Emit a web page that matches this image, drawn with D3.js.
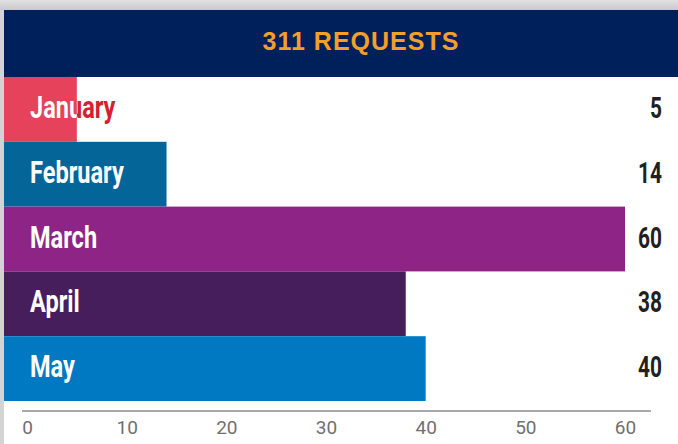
<!DOCTYPE html>
<html>
<head>
<meta charset="utf-8">
<script src="https://cdn.jsdelivr.net/npm/d3@7"></script>
<style>
  body { margin: 0; background: #d3d3d4; }
  #chart { width: 678px; height: 444px; }
</style>
</head>
<body>
<div id="chart"></div>
<script>
// data
let months = ["January", "February", "March", "April", "May"];
let requests = [5, 14, 60, 38, 40];
let barColors = ["#e6425b", "#046598", "#8e2586", "#461e5b", "#0079c2"];
let tickValues = [0, 10, 20, 30, 40, 50, 60];
let title = "311 REQUESTS";

let W = 678, H = 444;
let padLeft = 4, padTop = 10;
let squeeze = 0.76;   // fake a condensed face

let svg = d3.select("#chart").append("svg")
    .attr("width", W)
    .attr("height", H);

// grey top shadow
let defs = svg.append("defs");
let grad = defs.append("linearGradient").attr("id", "topShade")
    .attr("x1", 0).attr("y1", 0).attr("x2", 0).attr("y2", 1);
grad.append("stop").attr("offset", "0%").attr("stop-color", "#e2e2e3");
grad.append("stop").attr("offset", "100%").attr("stop-color", "#c9c9cb");
svg.append("rect").attr("x", 0).attr("y", 0).attr("width", W).attr("height", padTop)
    .attr("fill", "url(#topShade)");
svg.append("rect").attr("x", 0).attr("y", padTop).attr("width", padLeft).attr("height", H - padTop)
    .attr("fill", "#d3d3d4");

// white panel
svg.append("rect").attr("x", padLeft).attr("y", padTop).attr("width", W - padLeft).attr("height", H - padTop)
    .attr("fill", "#ffffff");

// header
svg.append("rect").attr("x", padLeft).attr("y", padTop).attr("width", W - padLeft).attr("height", 67)
    .attr("fill", "#00205b");
svg.append("text")
    .attr("x", 361).attr("y", 50)
    .attr("text-anchor", "middle")
    .attr("fill", "#f59e2a")
    .style("font-family", "'Liberation Sans', Arial, sans-serif")
    .style("font-weight", "bold")
    .style("font-size", "25px")
    .style("letter-spacing", "1px")
    .text(title);

// scales
let x = d3.scaleLinear().domain([0, 60]).range([27, 625]);
let y = d3.scaleBand().domain(months).range([77, 401]).padding(0);

let rows = months.map((m, i) => ({month: m, value: requests[i], color: barColors[i]}));

let labelFont = "Roboto, sans-serif";
let baseline = d => y(d.month) + y.bandwidth() / 2 + 8.5;

// clip paths so the month label is white over the bar and coloured past it
rows.forEach((d, i) => {
    defs.append("clipPath").attr("id", "clip" + i)
        .append("rect")
        .attr("x", padLeft)
        .attr("y", y(d.month))
        .attr("width", x(d.value) - padLeft)
        .attr("height", y.bandwidth());
});

let g = svg.append("g");

g.selectAll(".bar")
    .data(rows)
    .enter()
    .append("rect")
    .attr("class", "bar")
    .attr("x", padLeft)
    .attr("y", d => y(d.month))
    .attr("width", d => x(d.value) - padLeft)
    .attr("height", y.bandwidth())
    .attr("fill", d => d.color);

// label outside the bar (shown only where bar is short)
g.selectAll(".label-out")
    .data(rows)
    .enter()
    .append("text")
    .attr("class", "label-out")
    .attr("transform", d => `translate(30,${baseline(d)}) scale(${squeeze},1)`)
    .attr("fill", (d, i) => i === 0 ? "#d4202f" : d.color)
    .style("font-family", labelFont)
    .style("font-weight", "bold")
    .style("font-size", "31px")
    .text(d => d.month);

g.selectAll(".label-in-wrap")
    .data(rows)
    .enter()
    .append("g")
    .attr("class", "label-in-wrap")
    .attr("clip-path", (d, i) => "url(#clip" + i + ")")
    .append("text")
    .attr("transform", d => `translate(30,${baseline(d)}) scale(${squeeze},1)`)
    .attr("fill", "#ffffff")
    .style("font-family", labelFont)
    .style("font-weight", "bold")
    .style("font-size", "31px")
    .text(d => d.month);

// values on the right
g.selectAll(".value")
    .data(rows)
    .enter()
    .append("text")
    .attr("class", "value")
    .attr("transform", d => `translate(662,${baseline(d)}) scale(${squeeze - 0.04},1)`)
    .attr("text-anchor", "end")
    .attr("fill", "#231f20")
    .style("font-family", labelFont)
    .style("font-weight", "bold")
    .style("font-size", "29px")
    .text(d => d.value);

// x axis
let xAxis = d3.axisBottom(x)
    .tickValues(tickValues)
    .tickSize(0)
    .tickPadding(9.5);

let axisG = svg.append("g")
    .attr("class", "x-axis")
    .attr("transform", "translate(0,411)")
    .call(xAxis);

axisG.select(".domain").remove();
axisG.append("line")
    .attr("x1", 22).attr("x2", 651)
    .attr("y1", 0).attr("y2", 0)
    .attr("stroke", "#a8a8a8")
    .attr("stroke-width", 2);

axisG.selectAll("text")
    .attr("fill", "#707070")
    .style("font-family", "Roboto, sans-serif")
    .style("font-size", "19px");
</script>
</body>
</html>
